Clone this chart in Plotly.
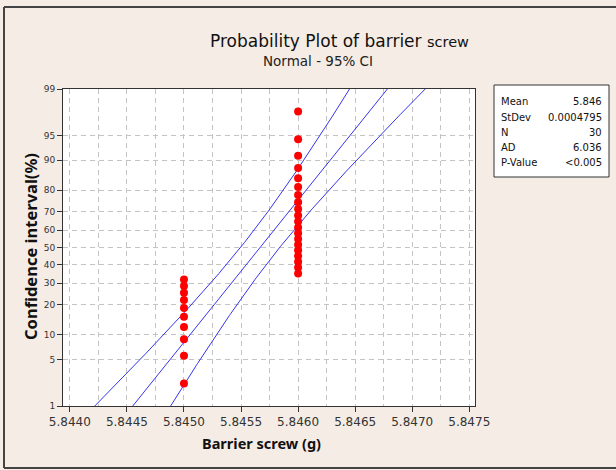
import numpy as np
import plotly.graph_objects as go
from statistics import NormalDist

# ---- data ----
barrier_screw_g = [
    5.8450, 5.8450, 5.8450, 5.8450, 5.8450, 5.8450, 5.8450, 5.8450, 5.8450, 5.8450,
    5.8460, 5.8460, 5.8460, 5.8460, 5.8460, 5.8460, 5.8460, 5.8460, 5.8460, 5.8460,
    5.8460, 5.8460, 5.8460, 5.8460, 5.8460, 5.8460, 5.8460, 5.8460, 5.8460, 5.8460,
]
percent = [
    2.30, 5.59, 8.88, 12.17, 15.46, 18.75, 22.04, 25.33, 28.62, 31.91,
    35.20, 38.49, 41.78, 45.07, 48.36, 51.64, 54.93, 58.22, 61.51, 64.80,
    68.09, 71.38, 74.67, 77.96, 81.25, 84.54, 87.83, 91.12, 94.41, 97.70,
]
y_ticks_pct = [1, 5, 10, 20, 30, 40, 50, 60, 70, 80, 90, 95, 99]
x_ticks = [5.8440, 5.8445, 5.8450, 5.8455, 5.8460, 5.8465, 5.8470, 5.8475]
x_minor = [5.84425, 5.84475, 5.84525, 5.84575, 5.84625, 5.84675, 5.84725]
stat_labels = ["Mean", "StDev", "N", "AD", "P-Value"]
stat_values = ["5.846", "0.0004795", "30", "6.036", "<0.005"]

nd = NormalDist()
zq = lambda p: nd.inv_cdf(p / 100.0)

x = np.array(barrier_screw_g)
mu = x.mean()
sd = x.std(ddof=1)
n = len(x)
zz = np.linspace(-2.8, 2.8, 200)
fit = mu + zz * sd
se = sd * np.sqrt(1.0 / n + zz ** 2 / (2 * n))
lo = fit - 1.96 * se
hi = fit + 1.96 * se

FONT = "DejaVu Sans"
TFONT = "Noto Sans"
LINE = "#3535ee"
GRID = "#c4c4c4"
DASH = "5px,4px"

fig = go.Figure()
for arr in (lo, fit, hi):
    fig.add_trace(go.Scatter(x=arr, y=zz, mode="lines",
                             line=dict(color=LINE, width=1), hoverinfo="skip"))
fig.add_trace(go.Scatter(x=barrier_screw_g, y=[zq(p) for p in percent], mode="markers",
                         marker=dict(color="#ff0000", size=8)))

# pixel layout helpers
L, R, T, B = 63, 475, 89, 406
W, H = 616, 470
px = lambda v: (v - L) / (R - L)
py = lambda v: (B - v) / (B - T)

fig.update_layout(
    width=W, height=H, showlegend=False,
    paper_bgcolor="#f5ede5", plot_bgcolor="#ffffff",
    margin=dict(l=L, r=W - R, t=T, b=H - B, autoexpand=False),
    font=dict(family=FONT, color="#222222"),
    xaxis=dict(
        range=[5.84394, 5.84755], tickvals=x_ticks,
        ticktext=[f"{v:.4f}" for v in x_ticks],
        tickfont=dict(size=12, color="#333333"),
        ticks="outside", ticklen=5, tickcolor="#333333",
        showgrid=True, gridcolor=GRID, griddash=DASH, gridwidth=1,
        minor=dict(tickvals=x_minor, showgrid=True, gridcolor=GRID, griddash=DASH),
        showline=True, linecolor="#333333", linewidth=1, mirror=True,
        zeroline=False, automargin=False,
    ),
    yaxis=dict(
        range=[zq(1), zq(99)], tickvals=[zq(p) for p in y_ticks_pct],
        ticktext=[str(p) for p in y_ticks_pct],
        tickfont=dict(size=9, color="#333333"),
        ticks="outside", ticklen=5, tickcolor="#333333",
        showgrid=True, gridcolor=GRID, griddash=DASH, gridwidth=1,
        showline=True, linecolor="#333333", linewidth=1, mirror=True,
        zeroline=False, automargin=False,
    ),
)

ann = []
ann.append(dict(x=px(208), y=py(41), xref="paper", yref="paper", xanchor="left", yanchor="middle",
                showarrow=False,
                text="Probability Plot of barrier <span style='font-size:14.5px'>screw</span>",
                font=dict(size=17, color="#111111")))
ann.append(dict(x=px(318), y=py(61), xref="paper", yref="paper", xanchor="center", yanchor="middle",
                showarrow=False, text="Normal - 95% CI", font=dict(size=13.5, color="#222222")))
ann.append(dict(x=px(261), y=py(443), xref="paper", yref="paper", xanchor="center", yanchor="middle",
                showarrow=False, text="<b>Barrier screw (g)</b>",
                font=dict(family=TFONT, size=14.5, color="#111111")))
ann.append(dict(x=px(30), y=py(247), xref="paper", yref="paper", xanchor="center", yanchor="middle",
                showarrow=False, textangle=-90, text="<b>Confidence interval(%)</b>",
                font=dict(family=TFONT, size=16.5, color="#111111")))
row_y = [101, 117, 132, 147, 162]
for lab, val, ry in zip(stat_labels, stat_values, row_y):
    ann.append(dict(x=px(499), y=py(ry), xref="paper", yref="paper", xanchor="left", yanchor="middle",
                    showarrow=False, text=lab, font=dict(size=10, color="#111111")))
    ann.append(dict(x=px(604), y=py(ry), xref="paper", yref="paper", xanchor="right", yanchor="middle",
                    showarrow=False, text=val, font=dict(size=10, color="#111111")))
fig.update_layout(annotations=ann)

shapes = [
    dict(type="rect", xref="paper", yref="paper", x0=px(494), x1=px(609), y0=py(85), y1=py(177),
         line=dict(color="#333333", width=1), fillcolor="#ffffff", layer="below"),
    dict(type="line", xref="paper", yref="paper", x0=px(4), x1=px(4), y0=py(7), y1=py(468),
         line=dict(color="#444444", width=2)),
    dict(type="line", xref="paper", yref="paper", x0=px(4), x1=px(616), y0=py(7), y1=py(7),
         line=dict(color="#444444", width=2)),
    dict(type="line", xref="paper", yref="paper", x0=px(4), x1=px(616), y0=py(468), y1=py(468),
         line=dict(color="#444444", width=2)),
]
fig.update_layout(shapes=shapes)

fig.write_html("out.html", config={"displayModeBar": False},
               post_script="document.body.style.margin='0';document.body.style.overflow='hidden';")
